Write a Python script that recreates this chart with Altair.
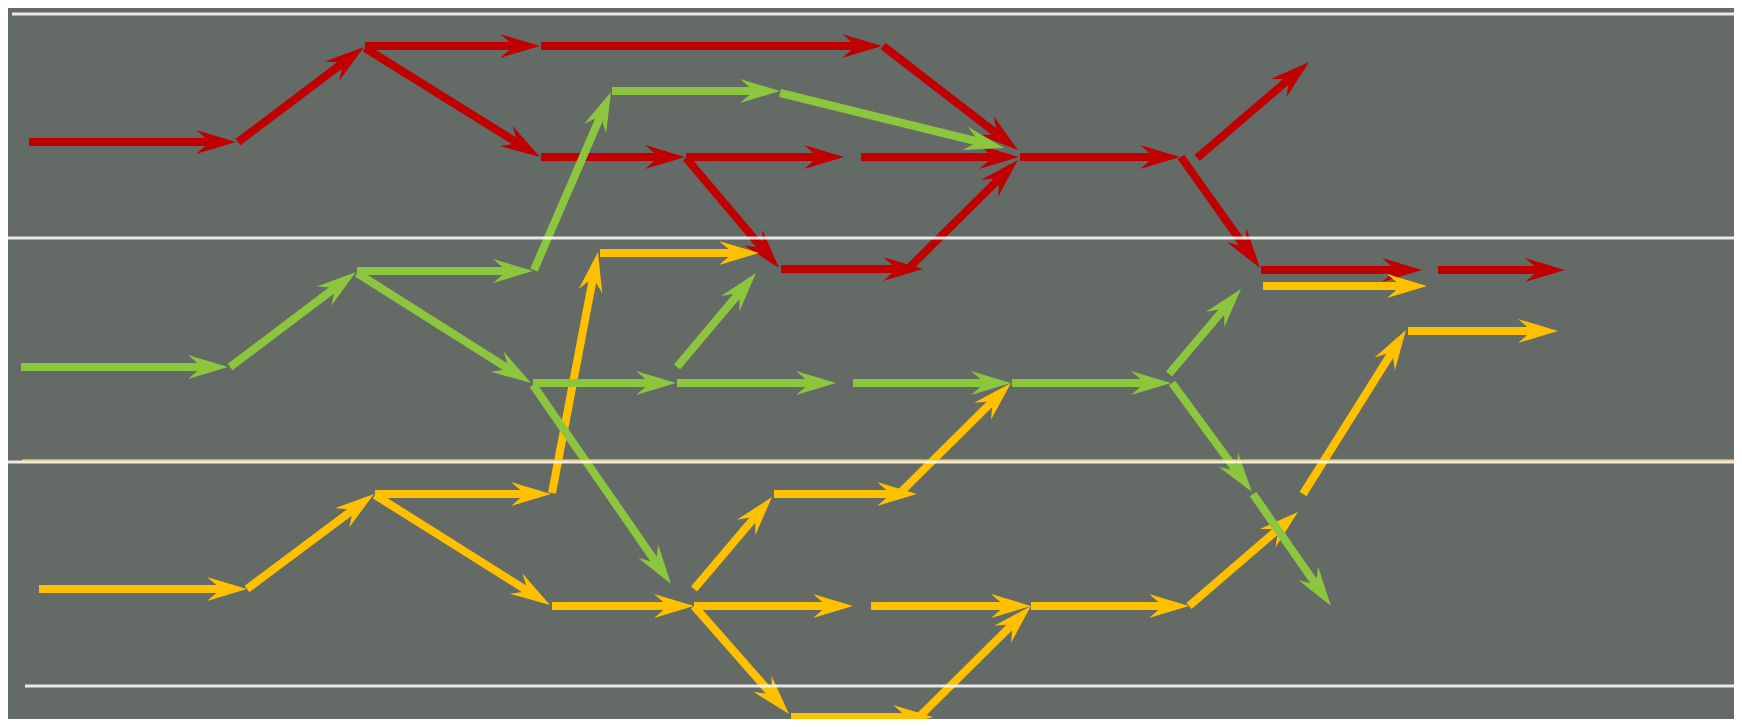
import altair as alt
import pandas as pd

# ---------------- data (reference pixel units) ----------------
red_x1 = [29, 238, 365, 365, 541, 541, 883, 686, 861, 686, 781, 909, 1020, 1197, 1181, 1261, 1438]
red_y1 = [142, 142, 46, 48, 46, 157, 46, 157, 157, 158, 269, 268, 157, 158, 157, 270, 270]
red_x2 = [236, 364, 540, 540, 882, 685, 1018, 844, 1019, 779, 923, 1018, 1180, 1309, 1260, 1422, 1565]
red_y2 = [142, 47, 46, 157, 46, 157, 150, 157, 157, 268, 269, 160, 157, 62, 268, 270, 270]

yel_x1 = [39, 247, 375, 375, 552, 600, 552, 694, 774, 900, 694, 871, 694, 791, 920, 1031, 1189, 1303, 1408, 1263]
yel_y1 = [589, 589, 494, 495, 493, 253, 606, 589, 494, 493, 606, 606, 606, 717, 716, 606, 606, 494, 331, 286]
yel_x2 = [247, 374, 551, 550, 598, 759, 694, 772, 917, 1011, 853, 1031, 789, 933, 1031, 1189, 1298, 1406, 1558, 1427]
yel_y2 = [589, 494, 494, 605, 252, 253, 606, 497, 494, 383, 606, 606, 714, 717, 606, 606, 512, 330, 331, 286]

grn_x1 = [21, 230, 357, 357, 534, 612, 780, 533, 533, 677, 677, 853, 1012, 1169, 1172, 1253]
grn_y1 = [367, 367, 271, 273, 270, 91, 93, 383, 385, 367, 383, 383, 383, 374, 383, 494]
grn_x2 = [228, 356, 533, 531, 611, 780, 1004, 676, 671, 756, 836, 1011, 1171, 1241, 1252, 1331]
grn_y2 = [367, 272, 271, 383, 92, 91, 148, 383, 584, 273, 383, 383, 383, 289, 492, 606]

guide_y = [14, 238, 462, 686]
guide_x1 = [12, 5, 5, 25]
guide_x2 = [1742, 1735, 1735, 1742]

tint_y = [460]
tint_x1 = [22]
tint_x2 = [1735]

routes = ["red", "yellow", "green"]
colors = ["#c00000", "#ffc000", "#8cc63f"]

# ---------------- tables ----------------
rows = []
for name, xa, ya, xb, yb in [
    ("red", red_x1, red_y1, red_x2, red_y2),
    ("yellow", yel_x1, yel_y1, yel_x2, yel_y2),
    ("green", grn_x1, grn_y1, grn_x2, grn_y2),
]:
    for a, b, c, d in zip(xa, ya, xb, yb):
        rows.append({"route": name, "x1": a, "y1": b, "x2": c, "y2": d})
seg = pd.DataFrame(rows)

guides = pd.DataFrame({"y": guide_y, "x1": guide_x1, "x2": guide_x2})
tint = pd.DataFrame({"y": tint_y, "x1": tint_x1, "x2": tint_x2})

xs = alt.Scale(domain=[8, 1734], nice=False, zero=False)
ys = alt.Scale(domain=[8, 719], reverse=True, nice=False, zero=False)

ARROW = "M0,0L-2,-0.6L-1.3,0L-2,0.6Z"

layers = []
for name, col in zip(routes, colors):
    base = (
        alt.Chart(seg)
        .transform_filter(alt.datum.route == name)
        .transform_calculate(
            seglen="sqrt(pow(datum.x2-datum.x1,2)+pow(datum.y2-datum.y1,2))"
        )
        .transform_calculate(
            xe="datum.x2 - (datum.x2-datum.x1)/datum.seglen*22",
            ye="datum.y2 - (datum.y2-datum.y1)/datum.seglen*22",
            ang="(atan2(datum.y2-datum.y1, datum.x2-datum.x1)*180/PI + 360) % 360",
        )
    )
    lines = base.mark_rule(strokeWidth=8, color=col).encode(
        x=alt.X("x1:Q", scale=xs, axis=None),
        y=alt.Y("y1:Q", scale=ys, axis=None),
        x2="xe:Q",
        y2="ye:Q",
    )
    heads = base.mark_point(
        shape=ARROW, size=1600, filled=True, opacity=1, color=col, strokeWidth=0
    ).encode(
        x=alt.X("x2:Q", scale=xs, axis=None),
        y=alt.Y("y2:Q", scale=ys, axis=None),
        angle=alt.Angle("ang:Q", scale=None),
    )
    layers += [lines, heads]

tint_layer = alt.Chart(tint).mark_rule(color="#ffc000", strokeWidth=1.5).encode(
    x=alt.X("x1:Q", scale=xs, axis=None),
    x2="x2:Q",
    y=alt.Y("y:Q", scale=ys, axis=None),
)
guide_layer = alt.Chart(guides).mark_rule(color="white", strokeWidth=3, opacity=0.85).encode(
    x=alt.X("x1:Q", scale=xs, axis=None),
    x2="x2:Q",
    y=alt.Y("y:Q", scale=ys, axis=None),
)

chart = (
    alt.layer(*layers, tint_layer, guide_layer)
    .properties(
        width=1726,
        height=711,
        background="#646a65",
        padding=0,
        autosize=alt.AutoSizeParams(type="none"),
    )
    .configure_view(stroke=None)
)

chart.save("out.html", embed_options={"renderer": "svg", "actions": False})
